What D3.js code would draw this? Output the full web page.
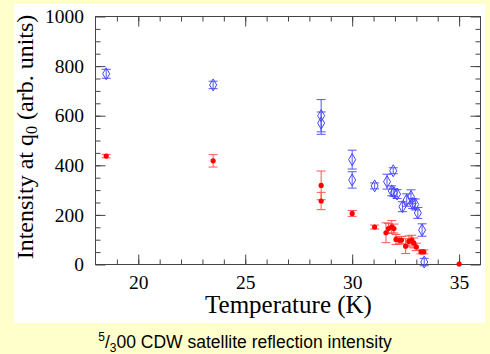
<!DOCTYPE html>
<html><head><meta charset="utf-8">
<script src="https://cdn.jsdelivr.net/npm/d3@7"></script>
<style>body{margin:0;background:#ffffcc;}svg{display:block;}
.serif{font-family:"Liberation Serif",serif;}
</style>
</head><body>
<svg id="c" width="490" height="354"></svg>
<script>
// Blue series: open diamonds [T, value, error]
const blueT   = [18.5, 23.5, 28.55, 28.55, 30.0, 30.0, 31.05, 31.63, 31.92, 31.85, 31.95, 32.1, 32.35, 32.55, 32.75, 32.83, 32.95, 33.07, 33.27, 33.37];
const blueV   = [769, 724, 600, 570, 423, 341, 317, 334, 378, 297, 290, 284, 233, 260, 273, 246, 242, 208, 139, 10];
const blueErr = [18, 15, 65, 45, 38, 33, 12, 30, 12, 20, 15, 18, 20, 25, 28, 20, 22, 22, 25, 15];
// Red series: filled circles [T, value, error]
const redT   = [18.5, 23.5, 28.55, 28.55, 30.0, 31.05, 31.58, 31.7, 31.85, 31.95, 32.05, 32.2, 32.3, 32.5, 32.65, 32.78, 32.88, 33.0, 33.22, 33.35, 35.0];
const redV   = [437, 418, 319, 256, 206, 151, 128, 145, 152, 145, 101, 98, 98, 74, 93, 98, 87, 71, 51, 51, 2];
const redErr = [7, 25, 58, 35, 12, 8, 40, 20, 25, 18, 20, 15, 15, 30, 22, 20, 20, 15, 8, 8, 0];

const xTicks = [20, 25, 30, 35];
const yTicks = [0, 200, 400, 600, 800, 1000];
const xLabel = "Temperature (K)";

const svg = d3.select("#c");
svg.append("rect").attr("x",14).attr("y",4).attr("width",471).attr("height",319).attr("fill","#fff");

const L=95.5, R=480.5, T=16.5, B=264.5;
const x = d3.scaleLinear().domain([18,36]).range([L,R]);
const y = d3.scaleLinear().domain([0,1000]).range([B,T]);

const axCol = "#444";
const g = svg.append("g");
g.append("rect").attr("x",L).attr("y",T).attr("width",R-L).attr("height",B-T)
 .attr("fill","none").attr("stroke",axCol).attr("stroke-width",1);

const xMinor = d3.range(19,36,1);
const yMinor = d3.range(50,1000,50);
function ticks(axisGen, tr, vals, size){
  g.append("g").attr("transform",tr).call(axisGen.tickValues(vals).tickSize(size).tickFormat(""))
   .call(s=>{s.select(".domain").remove();s.selectAll("line").attr("stroke",axCol);});
}
ticks(d3.axisBottom(x), `translate(0,${B})`, xMinor, -5);
ticks(d3.axisBottom(x), `translate(0,${B})`, xTicks, -10);
ticks(d3.axisTop(x), `translate(0,${T})`, xMinor, -5);
ticks(d3.axisTop(x), `translate(0,${T})`, xTicks, -10);
ticks(d3.axisLeft(y), `translate(${L},0)`, yMinor, -5);
ticks(d3.axisLeft(y), `translate(${L},0)`, yTicks, -10);
ticks(d3.axisRight(y), `translate(${R},0)`, yMinor, -5);
ticks(d3.axisRight(y), `translate(${R},0)`, yTicks, -10);

const fmt = d3.format("d");
g.append("g").attr("transform",`translate(0,${B})`)
 .call(d3.axisBottom(x).tickValues(xTicks).tickSize(0).tickPadding(10.5).tickFormat(fmt))
 .call(s=>{s.select(".domain").remove();s.attr("font-family",null).attr("font-size",null);
   s.selectAll("text").attr("class","serif").style("font-size","19.5px").attr("fill","#000");});
g.append("g").attr("transform",`translate(${L},0)`)
 .call(d3.axisLeft(y).tickValues(yTicks).tickSize(0).tickPadding(11.5).tickFormat(fmt))
 .call(s=>{s.select(".domain").remove();s.attr("font-family",null).attr("font-size",null);
   s.selectAll("text").attr("class","serif").style("font-size","19.5px").attr("fill","#000");});

svg.append("text").attr("class","serif").attr("x",288.5).attr("y",313).attr("text-anchor","middle")
 .style("font-size","25px").attr("fill","#000").text(xLabel);
const yl = svg.append("text").attr("class","serif").attr("transform",`translate(33,137) rotate(-90)`)
 .attr("text-anchor","middle").style("font-size","24px").attr("fill","#000");
yl.append("tspan").text("Intensity at q");
yl.append("tspan").style("font-size","16px").attr("dy",4).text("0");
yl.append("tspan").attr("dy",-4).text(" (arb. units)");

const cap = svg.append("text").attr("x",245).attr("y",348).attr("text-anchor","middle")
 .style("font-family","'Liberation Sans',Arial,sans-serif").style("font-size","17.5px").attr("fill","#000");
cap.append("tspan").style("font-size","12px").attr("dy",-7).text("5");
cap.append("tspan").attr("dy",7).text("/");
cap.append("tspan").style("font-size","12px").attr("dy",4).text("3");
cap.append("tspan").attr("dy",-4).text("00 CDW satellite reflection intensity");

function errBars(Ts, Vs, Es, col){
  const eg = svg.append("g").attr("stroke",col).attr("stroke-width",1).attr("fill","none");
  Ts.forEach((t,i)=>{
    if(!Es[i]) return;
    const cx=x(t), y0=y(Vs[i]-Es[i]), y1=y(Vs[i]+Es[i]);
    eg.append("line").attr("x1",cx).attr("x2",cx).attr("y1",y0).attr("y2",y1);
    eg.append("line").attr("x1",cx-4.5).attr("x2",cx+4.5).attr("y1",y0).attr("y2",y0);
    eg.append("line").attr("x1",cx-4.5).attr("x2",cx+4.5).attr("y1",y1).attr("y2",y1);
  });
}
errBars(redT, redV, redErr, "#ff5555");
errBars(blueT, blueV, blueErr, "#5555ff");

svg.append("g").selectAll("path").data(blueT).join("path")
 .attr("d",(t,i)=>{const cx=x(t), cy=y(blueV[i]); return `M${cx},${cy-6}L${cx+3.5},${cy}L${cx},${cy+6}L${cx-3.5},${cy}Z`;})
 .attr("fill","none").attr("stroke","#4444ff").attr("stroke-width",1);
svg.append("g").selectAll("circle").data(redT).join("circle")
 .attr("cx",t=>x(t)).attr("cy",(t,i)=>y(redV[i])).attr("r",2.6).attr("fill","#ff0000");
</script>
</body></html>
